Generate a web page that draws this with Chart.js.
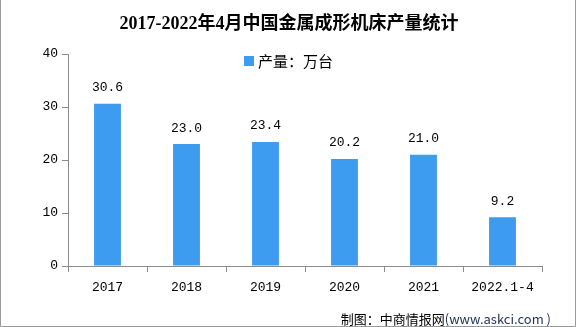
<!DOCTYPE html>
<html>
<head>
<meta charset="utf-8">
<script src="https://cdn.jsdelivr.net/npm/chart.js@4"></script>
<style>
  html, body { margin: 0; padding: 0; background: #fff; }
  #wrap { width: 576px; height: 327px; }
</style>
</head>
<body>
<div id="wrap"><canvas id="c" width="576" height="327"></canvas></div>
<script>
// Metal forming machine tool output, 10k units
const categories = ['2017', '2018', '2019', '2020', '2021', '2022.1-4'];
const output = [30.6, 23.0, 23.4, 20.2, 21.0, 9.2];
const yTicks = [0, 10, 20, 30, 40];

const titleText = '2017-2022年4月中国金属成形机床产量统计';
const legendText = '产量：万台';
const sourceLabel = '制图：中商情报网';
const sourceUrl = '(www.askci.com )';

const BAR = '#3d9cf0';
const AXIS = '#8c8c8c';
const MONO = '"Liberation Mono", "Noto Sans CJK SC", monospace';

const extras = {
  id: 'extras',
  afterDatasetsDraw(chart) {
    const ctx = chart.ctx;
    const meta = chart.getDatasetMeta(0);
    ctx.save();
    // title
    ctx.fillStyle = '#000';
    ctx.textAlign = 'center';
    ctx.textBaseline = 'middle';
    ctx.font = 'bold 18px "Liberation Serif", "Noto Sans CJK SC", serif';
    ctx.fillText(titleText, 289, 24);
    // value labels above bars
    ctx.font = '13px ' + MONO;
    meta.data.forEach((bar, i) => {
      ctx.fillText(output[i].toFixed(1), bar.x, bar.y - 16);
    });
    // legend
    ctx.fillStyle = BAR;
    ctx.fillRect(244, 56, 10, 10);
    ctx.fillStyle = '#000';
    ctx.textAlign = 'left';
    ctx.font = '15px "Noto Sans CJK SC", sans-serif';
    ctx.fillText(legendText, 258, 61);
    // source note
    ctx.textAlign = 'right';
    ctx.font = '13px "Noto Sans CJK SC", sans-serif';
    ctx.fillStyle = '#1f2f55';
    ctx.fillText(sourceUrl, 551, 319);
    const w = ctx.measureText(sourceUrl).width;
    ctx.fillStyle = '#000';
    ctx.fillText(sourceLabel, 551 - w, 319);
    // frame
    ctx.strokeStyle = '#9a9a9a';
    ctx.lineWidth = 1;
    ctx.beginPath();
    ctx.moveTo(0.5, 0);
    ctx.lineTo(0.5, 326.5);
    ctx.lineTo(575.5, 326.5);
    ctx.lineTo(575.5, 0);
    ctx.stroke();
    ctx.restore();
  }
};

new Chart(document.getElementById('c'), {
  type: 'bar',
  data: {
    labels: categories,
    datasets: [{
      label: legendText,
      data: output,
      backgroundColor: BAR,
      borderWidth: 0,
      barPercentage: 0.68,
      categoryPercentage: 0.5
    }]
  },
  options: {
    responsive: false,
    animation: false,
    layout: { padding: { left: 0, right: 34, top: 54, bottom: 0 } },
    plugins: {
      legend: { display: false },
      tooltip: { enabled: false },
      title: { display: false }
    },
    scales: {
      x: {
        offset: true,
        border: { display: true, color: AXIS, width: 1 },
        grid: { display: true, offset: true, drawOnChartArea: false, drawTicks: true, tickLength: 6, color: AXIS },
        ticks: { color: '#000', font: { family: MONO, size: 13 }, padding: 8, maxRotation: 0, autoSkip: false },
        afterFit(axis) { axis.height = 61; }
      },
      y: {
        min: 0,
        max: 40,
        afterBuildTicks(axis) { axis.ticks = yTicks.map(v => ({ value: v })); },
        border: { display: true, color: AXIS, width: 1 },
        grid: { display: true, drawOnChartArea: false, drawTicks: true, tickLength: 6, color: AXIS },
        ticks: { color: '#000', font: { family: MONO, size: 13 }, padding: 4 },
        afterFit(axis) { axis.width = 68; }
      }
    }
  },
  plugins: [extras]
});
</script>
</body>
</html>
